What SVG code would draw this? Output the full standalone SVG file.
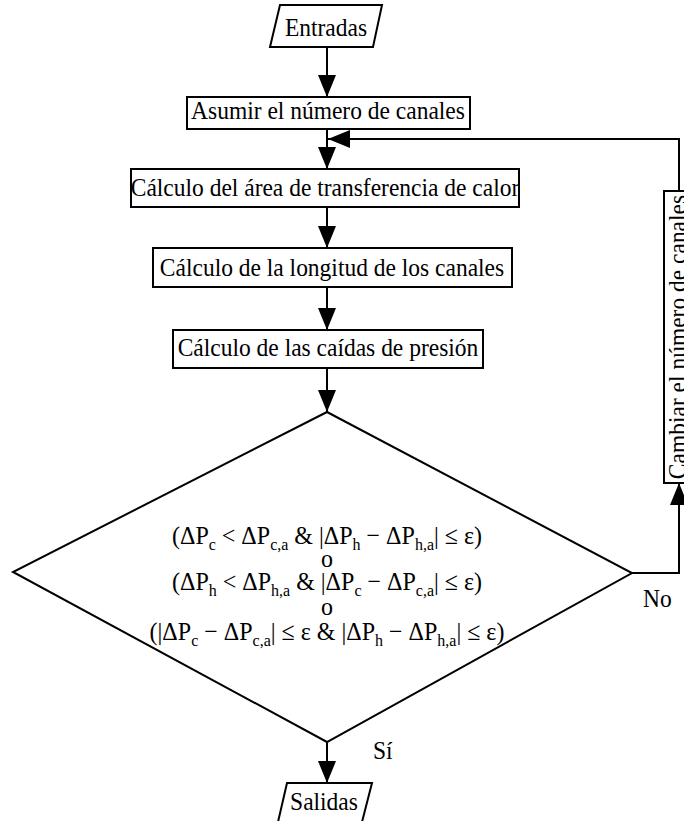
<svg xmlns="http://www.w3.org/2000/svg" width="684" height="821" viewBox="0 0 684 821">
  <defs>
    <marker id="arrow" markerUnits="userSpaceOnUse" markerWidth="22" markerHeight="18" refX="22" refY="9" orient="auto">
      <path d="M0,0 L22,9 L0,18 Z" fill="#000"/>
    </marker>
    <style>
      text { font-family: "Liberation Serif", "DejaVu Serif", serif; font-size: 23.5px; fill: #000; }
      .c { text-anchor: middle; }
      .cond { font-size: 24px; }
      .shape { fill: #fff; stroke: #000; stroke-width: 2; }
      .link { fill: none; stroke: #000; stroke-width: 2; marker-end: url(#arrow); }
      .sub { font-size: 16px; }
    </style>
  </defs>
  <rect width="684" height="821" fill="#fff"/>

  <!-- connectors -->
  <g id="connectors">
    <path class="link" d="M327,47 V97"/>
    <path class="link" d="M327,129 V169"/>
    <path class="link" d="M327,207 V248"/>
    <path class="link" d="M327,287 V330"/>
    <path class="link" d="M327,368 V412"/>
    <path class="link" d="M327,742 V783"/>
    <path class="link" d="M632,573 H679 V483"/>
    <path class="link" d="M679,191 V139 H328"/>
  </g>

  <!-- text is drawn slightly taller than wide: translate to the baseline, then scale y -->
  <g id="entradas">
    <polygon class="shape" points="280,5 382,5 373,47 270,47"/>
    <text class="c" transform="translate(326,36) scale(1,1.08)">Entradas</text>
  </g>

  <g id="asumir">
    <rect class="shape" x="187" y="97" width="283" height="32"/>
    <text class="c" transform="translate(328,119) scale(1,1.08)">Asumir el número de canales</text>
  </g>

  <g id="area">
    <rect class="shape" x="131" y="169" width="388" height="38"/>
    <text class="c" transform="translate(325,196) scale(1,1.08)">Cálculo del área de transferencia de calor</text>
  </g>

  <g id="longitud">
    <rect class="shape" x="153" y="248" width="359" height="39"/>
    <text class="c" transform="translate(332,276) scale(1,1.08)">Cálculo de la longitud de los canales</text>
  </g>

  <g id="caidas">
    <rect class="shape" x="173" y="330" width="310" height="38"/>
    <text class="c" transform="translate(328,356) scale(1,1.08)">Cálculo de las caídas de presión</text>
  </g>

  <g id="decision">
    <polygon class="shape" points="327,412 632,573 327,742 13,572"/>
    <text class="c cond" transform="translate(327,544) scale(1,1.08)">(ΔP<tspan class="sub" dy="6">c</tspan><tspan dy="-6"> &lt; ΔP</tspan><tspan class="sub" dy="6">c,a</tspan><tspan dy="-6"> &amp; |ΔP</tspan><tspan class="sub" dy="6">h</tspan><tspan dy="-6"> − ΔP</tspan><tspan class="sub" dy="6">h,a</tspan><tspan dy="-6">| ≤ ε)</tspan></text>
    <text class="c cond" transform="translate(327,567) scale(1,1.08)">o</text>
    <text class="c cond" transform="translate(327,590) scale(1,1.08)">(ΔP<tspan class="sub" dy="6">h</tspan><tspan dy="-6"> &lt; ΔP</tspan><tspan class="sub" dy="6">h,a</tspan><tspan dy="-6"> &amp; |ΔP</tspan><tspan class="sub" dy="6">c</tspan><tspan dy="-6"> − ΔP</tspan><tspan class="sub" dy="6">c,a</tspan><tspan dy="-6">| ≤ ε)</tspan></text>
    <text class="c cond" transform="translate(327,615) scale(1,1.08)">o</text>
    <text class="c cond" transform="translate(327,640) scale(1,1.08)">(|ΔP<tspan class="sub" dy="6">c</tspan><tspan dy="-6"> − ΔP</tspan><tspan class="sub" dy="6">c,a</tspan><tspan dy="-6">| ≤ ε &amp; |ΔP</tspan><tspan class="sub" dy="6">h</tspan><tspan dy="-6"> − ΔP</tspan><tspan class="sub" dy="6">h,a</tspan><tspan dy="-6">| ≤ ε)</tspan></text>
  </g>

  <g id="cambiar">
    <rect class="shape" x="664" y="191" width="30" height="292"/>
    <text class="c" transform="translate(686,337) rotate(-90) scale(1,1.08)">Cambiar el número de canales</text>
  </g>

  <g id="salidas">
    <polygon class="shape" points="287,783 372,783 362,822 278,822"/>
    <text class="c" transform="translate(324,810) scale(1,1.08)">Salidas</text>
  </g>

  <g id="labels">
    <text transform="translate(643,607) scale(1,1.08)">No</text>
    <text transform="translate(373,759) scale(1,1.08)">Sí</text>
  </g>
</svg>
